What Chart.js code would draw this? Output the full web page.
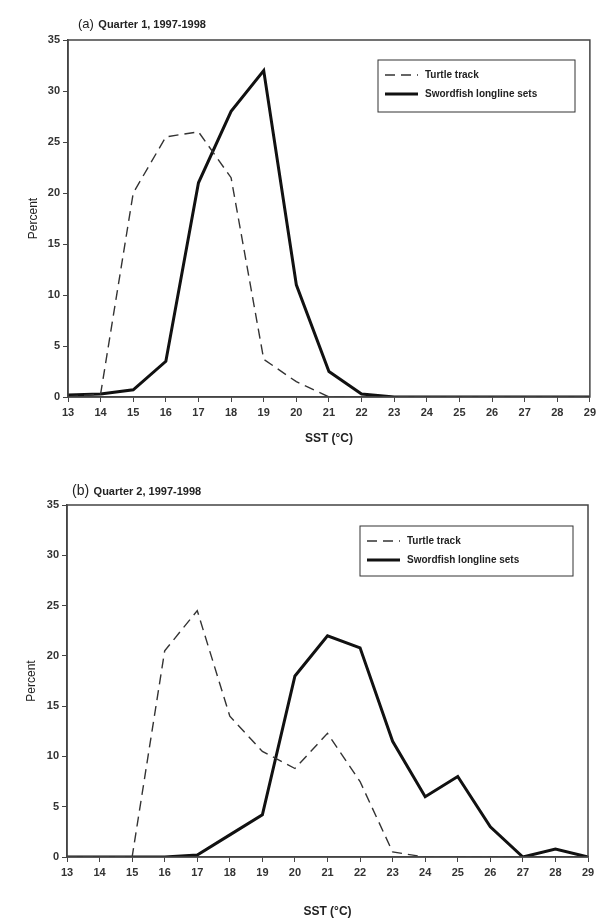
<!DOCTYPE html>
<html>
<head>
<meta charset="utf-8">
<script src="https://cdn.jsdelivr.net/npm/chart.js@4"></script>
<style>
  body { margin: 0; background: #fff; width: 600px; height: 923px; position: relative; overflow: hidden; }
  .panel { position: absolute; left: 0; width: 600px; }
  .ptitle { position: absolute; font-family: "Liberation Sans", Arial, sans-serif; color: #222; white-space: nowrap; }
  .ptitle b { font-size: 11px; }
  .ptitle span { font-size: 13px; }
</style>
</head>
<body>
<div class="panel" style="top:0;height:460px"><canvas id="q1Chart"></canvas></div>
<div class="panel" style="top:455px;height:468px"><canvas id="q2Chart"></canvas></div>
<div class="ptitle" style="left:78px;top:14px"><span>(a)</span> <b>Quarter 1, 1997-1998</b></div>
<div class="ptitle" style="left:72px;top:481px"><span style="font-size:14px">(b)</span> <b>Quarter 2, 1997-1998</b></div>
<script>
const sst = ['13','14','15','16','17','18','19','20','21','22','23','24','25','26','27','28','29'];

const turtleQ1 = [0, 0.3, 20, 25.5, 26, 21.5, 3.7, 1.5, 0, 0, 0, 0, 0, 0, 0, 0, 0];
const swordQ1  = [0.2, 0.3, 0.7, 3.5, 21, 28, 32, 11, 2.5, 0.3, 0, 0, 0, 0, 0, 0, 0];

const turtleQ2 = [0, 0, 0, 20.5, 24.5, 14, 10.5, 8.8, 12.3, 7.5, 0.5, 0, 0, 0, 0, 0, 0];
const swordQ2  = [0, 0, 0, 0, 0.2, 2.2, 4.2, 18, 22, 20.8, 11.5, 6, 8, 3, 0, 0.8, 0];

const yTicks = [0, 5, 10, 15, 20, 25, 30, 35];

const fontFam = '"Liberation Sans", Arial, sans-serif';

// frame round the plot area + legend box inside it
const framePlugin = {
  id: 'frame',
  afterDraw(chart, args, opts) {
    const a = chart.chartArea;
    const c = chart.ctx;
    c.save();
    c.strokeStyle = '#444';
    c.lineWidth = 1.5;
    c.strokeRect(a.left, a.top, a.right - a.left, a.bottom - a.top);

    const lg = opts.legend;
    c.lineWidth = 1;
    c.strokeStyle = '#333';
    c.strokeRect(lg.x, lg.y, lg.w, lg.h);
    c.font = 'bold 10px ' + fontFam;
    c.fillStyle = '#222';
    c.textBaseline = 'middle';
    chart.data.datasets.forEach((ds, i) => {
      const yy = lg.y + 15 + i * 19;
      c.beginPath();
      c.setLineDash(ds.borderDash || []);
      c.lineWidth = ds.borderWidth;
      c.strokeStyle = ds.borderColor;
      c.moveTo(lg.x + 7, yy);
      c.lineTo(lg.x + 40, yy);
      c.stroke();
      c.setLineDash([]);
      c.fillText(ds.label, lg.x + 47, yy);
    });
    c.restore();
  }
};

function makeChart(id, turtle, sword, pad, yW, xH, legend) {
  return new Chart(document.getElementById(id), {
    type: 'line',
    data: {
      labels: sst,
      datasets: [{
        label: 'Turtle track',
        data: turtle,
        borderColor: '#333',
        borderWidth: 1.4,
        borderDash: [10, 6],
        pointRadius: 0,
        tension: 0
      }, {
        label: 'Swordfish longline sets',
        data: sword,
        borderColor: '#111',
        borderWidth: 3,
        pointRadius: 0,
        tension: 0
      }]
    },
    options: {
      responsive: true,
      maintainAspectRatio: false,
      animation: false,
      layout: { padding: pad },
      plugins: {
        legend: { display: false },
        tooltip: { enabled: false },
        frame: { legend: legend }
      },
      scales: {
        x: {
          type: 'category',
          offset: false,
          grid: { drawOnChartArea: false, drawTicks: true, tickLength: 5, color: '#444' },
          border: { color: '#444', width: 1.5 },
          ticks: { color: '#333', font: { family: fontFam, size: 11, weight: 'bold' }, maxRotation: 0, autoSkip: false, padding: 4 },
          title: { display: true, text: 'SST (\u00B0C)', color: '#222', font: { family: fontFam, size: 12, weight: 'bold' }, padding: { top: 6 } },
          afterFit(s) { s.height = xH; }
        },
        y: {
          min: 0,
          max: 35,
          afterBuildTicks(s) { s.ticks = yTicks.map(v => ({ value: v })); },
          grid: { drawOnChartArea: false, drawTicks: true, tickLength: 5, color: '#444' },
          border: { color: '#444', width: 1.5 },
          ticks: { color: '#333', font: { family: fontFam, size: 11, weight: 'bold' }, padding: 3 },
          title: { display: true, text: 'Percent', color: '#222', font: { family: fontFam, size: 12 }, padding: { bottom: 4 } },
          afterFit(s) { s.width = yW; }
        }
      }
    },
    plugins: [framePlugin]
  });
}

makeChart('q1Chart', turtleQ1, swordQ1, { top: 40, right: 8, left: 22, bottom: 10 }, 46, 53,
  { x: 378, y: 60, w: 197, h: 52 });
makeChart('q2Chart', turtleQ2, swordQ2, { top: 50, right: 12, left: 20, bottom: 0 }, 47, 66,
  { x: 360, y: 71, w: 213, h: 50 });
</script>
</body>
</html>
